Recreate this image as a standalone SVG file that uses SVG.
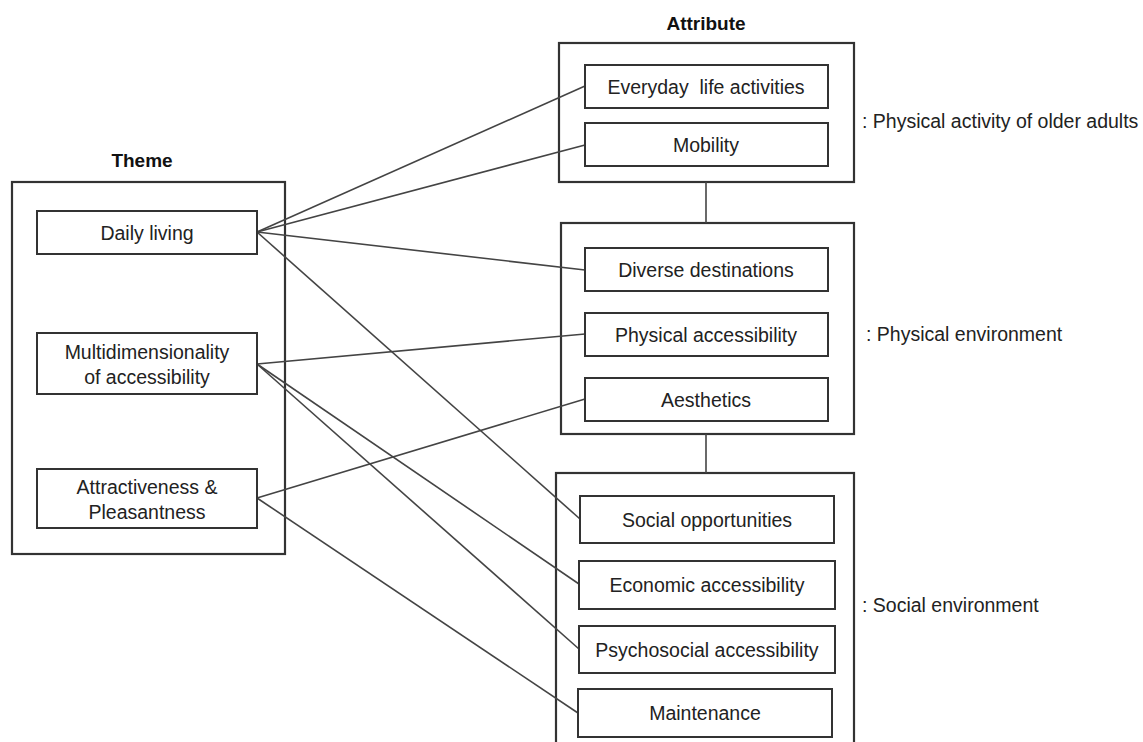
<svg xmlns="http://www.w3.org/2000/svg" width="1143" height="742" viewBox="0 0 1143 742">
<style>
.box{fill:#fff;stroke:#333;stroke-width:2}
.outer{fill:none;stroke:#333;stroke-width:2.2}
.t{font-family:"Liberation Sans",Arial,sans-serif;font-size:19.5px;fill:#222;text-anchor:middle;dominant-baseline:central}
.h{font-family:"Liberation Sans",Arial,sans-serif;font-size:19px;font-weight:bold;fill:#111;text-anchor:middle}
.l{font-family:"Liberation Sans",Arial,sans-serif;font-size:19.5px;fill:#222}
.c{stroke:#444;stroke-width:1.6;fill:none}
</style>
<rect width="1143" height="742" fill="#fff"/>
<text class="h" x="142" y="167">Theme</text>
<text class="h" x="706" y="30">Attribute</text>
<rect class="outer" x="12" y="182" width="273" height="372"/>
<rect class="outer" x="559" y="43" width="295" height="139"/>
<rect class="outer" x="561" y="223" width="293" height="211"/>
<rect class="outer" x="556" y="473" width="298" height="280"/>
<g id="connectors">
<line class="c" x1="706" y1="182" x2="706" y2="223"/>
<line class="c" x1="706" y1="434" x2="706" y2="473"/>
<line class="c" x1="257" y1="232" x2="585" y2="86"/>
<line class="c" x1="257" y1="232" x2="585" y2="145"/>
<line class="c" x1="257" y1="232" x2="585" y2="270"/>
<line class="c" x1="257" y1="232" x2="580" y2="519"/>
<line class="c" x1="257" y1="364" x2="585" y2="334"/>
<line class="c" x1="257" y1="364" x2="579" y2="584"/>
<line class="c" x1="257" y1="364" x2="579" y2="649"/>
<line class="c" x1="257" y1="498" x2="585" y2="399"/>
<line class="c" x1="257" y1="498" x2="578" y2="713"/>
</g>
<g id="daily"><rect class="box" x="37" y="211" width="220" height="43"/><text class="t" x="147" y="233">Daily living</text></g>
<g id="multi"><rect class="box" x="37" y="333" width="220" height="61"/><text class="t" x="147" y="352">Multidimensionality</text><text class="t" x="147" y="377">of accessibility</text></g>
<g id="attract"><rect class="box" x="37" y="469" width="220" height="59"/><text class="t" x="147" y="487">Attractiveness &amp;</text><text class="t" x="147" y="512">Pleasantness</text></g>
<g id="everyday"><rect class="box" x="585" y="65" width="243" height="43"/><text class="t" x="706" y="87" xml:space="preserve">Everyday  life activities</text></g>
<g id="mobility"><rect class="box" x="585" y="123" width="243" height="43"/><text class="t" x="706" y="145">Mobility</text></g>
<g id="diverse"><rect class="box" x="585" y="248" width="243" height="43"/><text class="t" x="706" y="270">Diverse destinations</text></g>
<g id="physical"><rect class="box" x="585" y="313" width="243" height="43"/><text class="t" x="706" y="335">Physical accessibility</text></g>
<g id="aesthetics"><rect class="box" x="585" y="378" width="243" height="43"/><text class="t" x="706" y="400">Aesthetics</text></g>
<g id="social"><rect class="box" x="580" y="496" width="254" height="47"/><text class="t" x="707" y="520">Social opportunities</text></g>
<g id="economic"><rect class="box" x="579" y="561" width="256" height="48"/><text class="t" x="707" y="585">Economic accessibility</text></g>
<g id="psycho"><rect class="box" x="579" y="626" width="256" height="47"/><text class="t" x="707" y="650">Psychosocial accessibility</text></g>
<g id="maint"><rect class="box" x="578" y="689" width="254" height="48"/><text class="t" x="705" y="713">Maintenance</text></g>
<text class="l" x="862" y="128">: Physical activity of older adults</text>
<text class="l" x="866" y="341">: Physical environment</text>
<text class="l" x="862" y="612">: Social environment</text>
</svg>
